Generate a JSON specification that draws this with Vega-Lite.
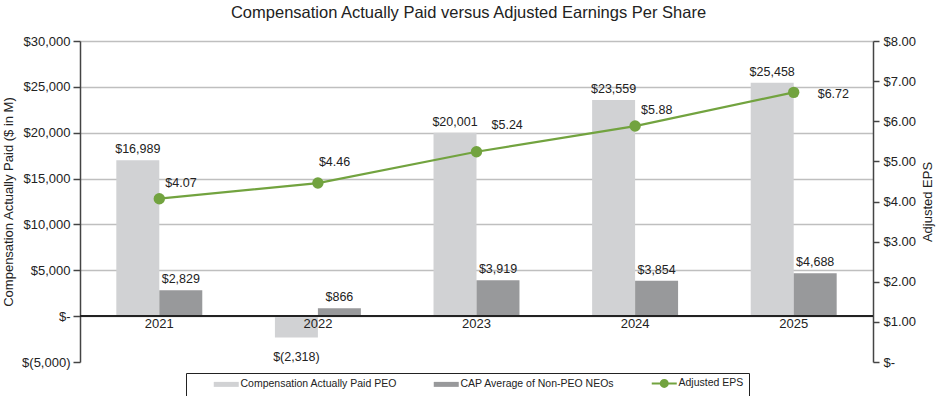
{
  "$schema": "https://vega.github.io/schema/vega-lite/v6.json",
  "width": 793,
  "height": 321,
  "autosize": {"type": "none"},
  "padding": {"left": 80, "top": 41, "right": 63, "bottom": 34},
  "title": {
    "text": "Compensation Actually Paid versus Adjusted Earnings Per Share",
    "fontSize": 16.5,
    "fontWeight": "normal",
    "color": "#222222",
    "offset": 14,
    "dx": -8
  },
  "datasets": {
    "bars": [
      {"year": "2021", "series": "Compensation Actually Paid PEO", "value": 16989},
      {"year": "2021", "series": "CAP Average of Non-PEO NEOs", "value": 2829},
      {"year": "2022", "series": "Compensation Actually Paid PEO", "value": -2318},
      {"year": "2022", "series": "CAP Average of Non-PEO NEOs", "value": 866},
      {"year": "2023", "series": "Compensation Actually Paid PEO", "value": 20001},
      {"year": "2023", "series": "CAP Average of Non-PEO NEOs", "value": 3919},
      {"year": "2024", "series": "Compensation Actually Paid PEO", "value": 23559},
      {"year": "2024", "series": "CAP Average of Non-PEO NEOs", "value": 3854},
      {"year": "2025", "series": "Compensation Actually Paid PEO", "value": 25458},
      {"year": "2025", "series": "CAP Average of Non-PEO NEOs", "value": 4688}
    ],
    "eps": [
      {"year": "2021", "eps": 4.07},
      {"year": "2022", "eps": 4.46},
      {"year": "2023", "eps": 5.24},
      {"year": "2024", "eps": 5.88},
      {"year": "2025", "eps": 6.72}
    ]
  },
  "layer": [
    {
      "data": {"name": "bars"},
      "encoding": {
        "y": {
          "field": "value",
          "type": "quantitative",
          "title": "Compensation Actually Paid ($ in M)",
          "scale": {"domain": [-5000, 30000], "nice": false, "zero": false},
          "axis": {
            "orient": "left",
            "title": "Compensation Actually Paid ($ in M)",
            "titleFontSize": 13,
            "titleFontWeight": "normal",
            "titleColor": "#222222",
            "titlePadding": 6,
            "values": [-5000, 0, 5000, 10000, 15000, 20000, 25000, 30000],
            "labelExpr": "datum.value == 0 ? '$-' : datum.value < 0 ? '$(' + format(-datum.value, ',') + ')' : '$' + format(datum.value, ',')",
            "labelFontSize": 13,
            "labelColor": "#222222",
            "labelPadding": 3,
            "tickSize": 7,
            "tickColor": "#444444",
            "tickWidth": 1.5,
            "domainColor": "#444444",
            "domainWidth": 1.5,
            "grid": true,
            "gridColor": "#bfbfbf",
            "gridWidth": 1.5,
            "gridOpacity": {"condition": {"test": "datum.value === -5000", "value": 0}, "value": 1}
          }
        }
      },
      "layer": [
        {
          "encoding": {
            "x": {
              "field": "year",
              "type": "nominal",
              "scale": {"paddingInner": 0.458, "paddingOuter": 0.229},
              "axis": null
            },
            "xOffset": {
              "field": "series",
              "type": "nominal",
              "scale": {"domain": ["Compensation Actually Paid PEO", "CAP Average of Non-PEO NEOs"], "paddingInner": 0, "paddingOuter": 0}
            }
          },
          "layer": [
            {
              "mark": {"type": "bar"},
              "encoding": {
                "color": {
                  "field": "series",
                  "type": "nominal",
                  "scale": {
                    "domain": ["Compensation Actually Paid PEO", "CAP Average of Non-PEO NEOs", "Adjusted EPS"],
                    "range": ["#d1d2d4", "#98999b", "#72a33f"]
                  },
                  "legend": {
                    "title": null,
                    "orient": "none",
                    "legendX": 106,
                    "legendY": 332,
                    "direction": "horizontal",
                    "strokeColor": "#222222",
                    "padding": 5,
                    "symbolOffset": 30,
                    "columnPadding": 14,
                    "labelFontSize": 10.5,
                    "labelColor": "#222222",
                    "labelOffset": 9,
                    "symbolSize": 625,
                    "encode": {
                      "symbols": {
                        "update": {
                          "shape": {"signal": "datum.value === 'Adjusted EPS' ? 'M-1,0H-0.28A0.28,0.28 0 1 1 0.28,0A0.28,0.28 0 1 1 -0.28,0ZM0.28,0H1' : 'M-1,-0.2H1V0.2H-1Z'"},
                          "fill": {"signal": "scale('color', datum.value)"},
                          "stroke": {"signal": "scale('color', datum.value)"},
                          "strokeWidth": {"signal": "datum.value === 'Adjusted EPS' ? 2 : 0"},
                          "size": {"value": 625},
                          "opacity": {"value": 1},
                          "fillOpacity": {"value": 1}
                        }
                      }
                    }
                  }
                }
              }
            },
            {
              "transform": [{"filter": "datum.value >= 0"}],
              "mark": {
                "type": "text",
                "fontSize": 12.5,
                "color": "#222222",
                "baseline": "alphabetic",
                "dy": -7,
                "text": {"expr": "'$' + format(datum.value, ',')"}
              }
            },
            {
              "transform": [{"filter": "datum.value < 0"}],
              "mark": {
                "type": "text",
                "fontSize": 12.5,
                "color": "#222222",
                "baseline": "alphabetic",
                "dy": 24,
                "text": {"expr": "'$(' + format(-datum.value, ',') + ')'"}
              }
            }
          ]
        },
        {
          "mark": {"type": "rule", "color": "#222222", "strokeWidth": 1.5},
          "encoding": {"y": {"datum": 0, "title": "Compensation Actually Paid ($ in M)"}}
        },
        {
          "transform": [{"filter": "datum.series == 'Compensation Actually Paid PEO'"}],
          "mark": {"type": "text", "fontSize": 13, "color": "#222222", "baseline": "top", "dy": 2},
          "encoding": {
            "x": {"field": "year", "type": "nominal", "axis": null},
            "y": {"datum": 0, "title": "Compensation Actually Paid ($ in M)"},
            "text": {"field": "year", "type": "nominal"}
          }
        }
      ]
    },
    {
      "data": {"name": "eps"},
      "encoding": {
        "x": {"field": "year", "type": "nominal", "axis": null},
        "y": {
          "field": "eps",
          "type": "quantitative",
          "scale": {"domain": [0, 8], "nice": false, "zero": false},
          "axis": {
            "orient": "right",
            "title": "Adjusted EPS",
            "titleAngle": 270,
            "titleBaseline": "top",
            "titleFontSize": 13,
            "titleFontWeight": "normal",
            "titleColor": "#222222",
            "titlePadding": 6,
            "values": [0, 1, 2, 3, 4, 5, 6, 7, 8],
            "labelExpr": "datum.value == 0 ? '$-' : '$' + format(datum.value, '.2f')",
            "labelFontSize": 13,
            "labelColor": "#222222",
            "labelPadding": 4,
            "tickSize": 6,
            "tickColor": "#444444",
            "tickWidth": 1.5,
            "domainColor": "#444444",
            "domainWidth": 1.5,
            "grid": false
          }
        }
      },
      "layer": [
        {
          "mark": {"type": "line", "strokeWidth": 2.2},
          "encoding": {"color": {"datum": "Adjusted EPS", "type": "nominal"}}
        },
        {
          "mark": {"type": "point", "filled": true, "size": 130, "opacity": 1, "color": "#72a33f"}
        },
        {
          "transform": [{"filter": "datum.year == '2021' || datum.year == '2024'"}],
          "mark": {"type": "text", "fontSize": 12.5, "color": "#222222", "align": "left", "baseline": "alphabetic", "dx": 6, "dy": -12},
          "encoding": {"text": {"field": "eps", "type": "quantitative", "format": "$.2f"}}
        },
        {
          "transform": [{"filter": "datum.year == '2022'"}],
          "mark": {"type": "text", "fontSize": 12.5, "color": "#222222", "align": "left", "baseline": "alphabetic", "dx": 1, "dy": -17},
          "encoding": {"text": {"field": "eps", "type": "quantitative", "format": "$.2f"}}
        },
        {
          "transform": [{"filter": "datum.year == '2023'"}],
          "mark": {"type": "text", "fontSize": 12.5, "color": "#222222", "align": "left", "baseline": "alphabetic", "dx": 15, "dy": -23},
          "encoding": {"text": {"field": "eps", "type": "quantitative", "format": "$.2f"}}
        },
        {
          "transform": [{"filter": "datum.year == '2025'"}],
          "mark": {"type": "text", "fontSize": 12.5, "color": "#222222", "align": "left", "baseline": "alphabetic", "dx": 24, "dy": 6},
          "encoding": {"text": {"field": "eps", "type": "quantitative", "format": "$.2f"}}
        }
      ]
    }
  ],
  "resolve": {"scale": {"y": "independent"}},
  "config": {
    "font": "Liberation Sans",
    "view": {"stroke": null},
    "background": "white"
  }
}
